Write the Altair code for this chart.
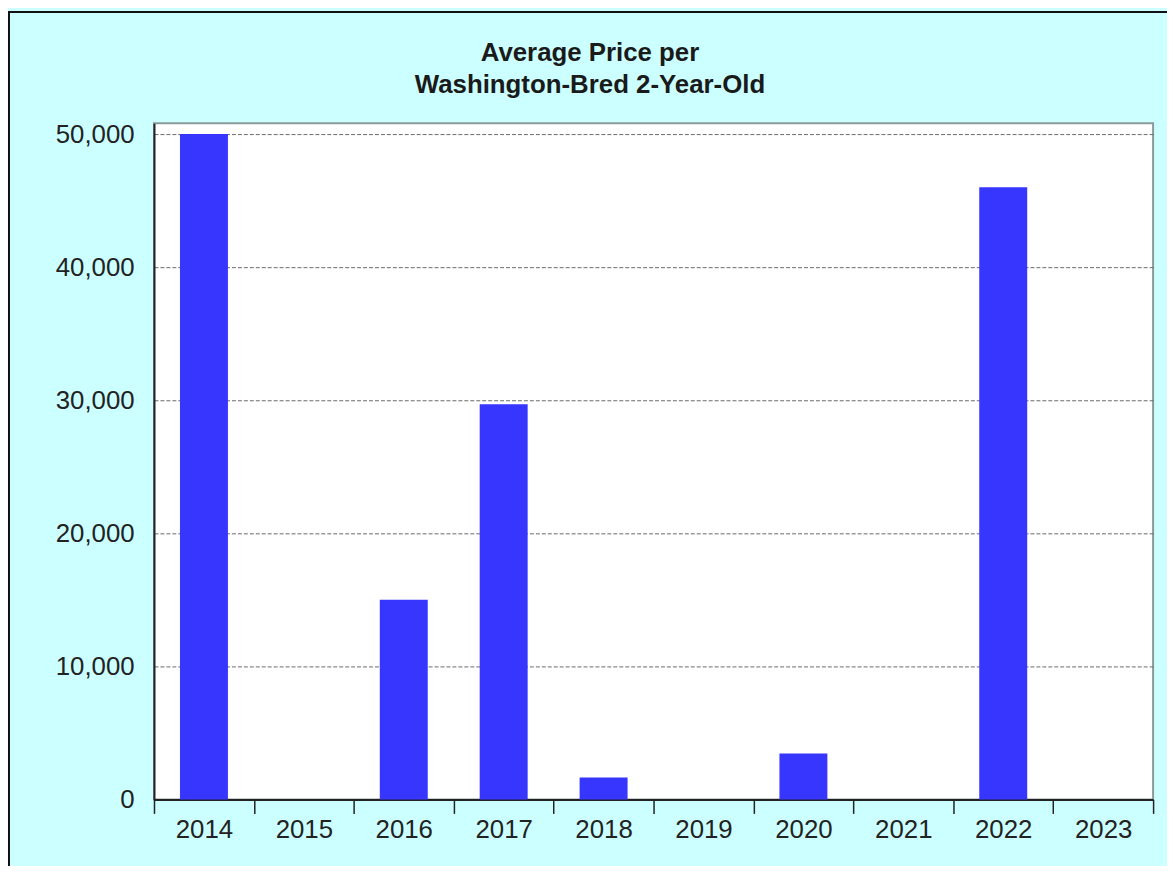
import altair as alt
import pandas as pd

years = ["2014", "2015", "2016", "2017", "2018", "2019", "2020", "2021", "2022", "2023"]
prices = [50000, 0, 15000, 29700, 1650, 0, 3450, 0, 46000, 0]
y_ticks = [0, 10000, 20000, 30000, 40000, 50000]
title_lines = ["Average Price per", "Washington-Bred 2-Year-Old"]

df = pd.DataFrame({"year": years, "price": prices})

FONT = "Liberation Sans"

bars = alt.Chart(df).mark_bar(color="#3636FF", width={"band": 0.48}).encode(
    x=alt.X(
        "year:O",
        sort=years,
        scale=alt.Scale(paddingInner=0, paddingOuter=0),
        axis=alt.Axis(
            title=None,
            labelAngle=0,
            tickBand="extent",
            tickSize=14,
            tickColor="#222",
            tickWidth=1.5,
            domainColor="#222",
            domainWidth=2,
            labelPadding=3,
            labelFontSize=26,
            labelColor="#222",
            labelFont=FONT,
            grid=False,
        ),
    ),
    y=alt.Y(
        "price:Q",
        scale=alt.Scale(domain=[0, 50820], nice=False, zero=True),
        axis=alt.Axis(
            title=None,
            values=y_ticks,
            format=",d",
            ticks=False,
            labelPadding=20,
            labelFontSize=26,
            labelColor="#222",
            labelFont=FONT,
            domainColor="#222",
            domainWidth=2,
            grid=True,
            gridColor="#6a6a6a",
            gridDash=[4, 2],
            gridWidth=1,
        ),
    ),
)

one = alt.Data(values=[{"a": 1}])

border = alt.Chart(one).mark_rect(
    fillOpacity=0, stroke="#111", strokeWidth=2
).encode(
    x=alt.value(-146), x2=alt.value(1200), y=alt.value(-112), y2=alt.value(900)
)

title = alt.Chart(one).mark_text(
    font=FONT,
    fontSize=26,
    fontWeight="bold",
    color="#1a1a1a",
    align="center",
    baseline="alphabetic",
    lineHeight=33,
).encode(
    x=alt.value(439),
    y=alt.value(-63),
    text=alt.value(title_lines),
)

chart = alt.layer(bars, border, title).properties(
    width=1006,
    height=681,
    autosize=alt.AutoSizeParams(type="none"),
    padding={"left": 147, "top": 113, "right": 14, "bottom": 64},
    background="#CCFFFF",
).configure_view(
    fill="white", stroke="#8a9a9a", strokeWidth=2
)

chart.save("out.html", embed_options={"renderer": "svg", "actions": False})
